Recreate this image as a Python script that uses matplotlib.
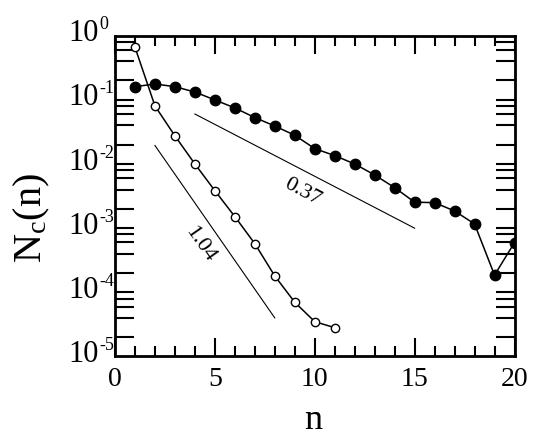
import matplotlib
matplotlib.use("Agg")
import matplotlib.pyplot as plt
from matplotlib import transforms
from matplotlib.ticker import LogLocator, MultipleLocator, NullFormatter

plt.rcParams['font.family'] = ['Liberation Serif', 'DejaVu Serif']
plt.rcParams['mathtext.fontset'] = 'custom'
plt.rcParams['mathtext.rm'] = 'Liberation Serif'
plt.rcParams['mathtext.it'] = 'Liberation Serif:italic'

# data
n_filled = list(range(1, 21))
nc_filled = [0.080, 0.088, 0.080, 0.066, 0.0497, 0.0373, 0.0264, 0.0195, 0.0140, 0.00867,
             0.00675, 0.0050, 0.00337, 0.00214, 0.00127, 0.00125, 0.000927, 0.000582,
             9.3e-5, 0.000298]

n_open = list(range(1, 12))
nc_open = [0.329, 0.0401, 0.0137, 0.0050, 0.00192, 0.000757, 0.000287, 9.0e-5,
           3.51e-5, 1.75e-5, 1.41e-5]

# guide lines (end points) and their slope labels
fit1_n = [4, 15]
fit1_y = [0.030, 5.0e-4]
fit1_label = "0.37"
fit2_n = [2, 8]
fit2_y = [0.0097, 2.0e-5]
fit2_label = "1.04"

decades = [0, -1, -2, -3, -4, -5]
xticks = [0, 5, 10, 15, 20]

fig = plt.figure(figsize=(5.53, 4.38), dpi=100)
ax = fig.add_axes([115 / 553, 1 - 355.5 / 438, 399.5 / 553, 319.2 / 438])
ax.set_yscale('log')

ax.plot(n_filled, nc_filled, '-o', color='black', lw=1.1, ms=7.5,
        mfc='black', mec='black', zorder=3)
ax.plot(n_open, nc_open, '-o', color='black', lw=1.1, ms=6,
        mfc='white', mec='black', mew=1.0, zorder=3)

ax.plot(fit1_n, fit1_y, '-', color='black', lw=0.8)
ax.plot(fit2_n, fit2_y, '-', color='black', lw=0.8)
ax.text(9.37, 1.83e-3, fit1_label, rotation=-28, ha='center', va='center',
        fontsize=16, rotation_mode='anchor')
ax.text(4.26, 2.84e-4, fit2_label, rotation=-55, ha='center', va='center',
        fontsize=16, rotation_mode='anchor')

ax.set_xlim(0, 20)
ax.set_ylim(5.2e-6, 0.487)

ax.set_xticks(xticks)
ax.xaxis.set_minor_locator(MultipleLocator(1))
ax.yaxis.set_major_locator(LogLocator(base=10, numticks=10))
ax.yaxis.set_minor_locator(LogLocator(base=10, subs=[2, 3, 4, 5], numticks=10))
ax.yaxis.set_major_formatter(NullFormatter())
ax.yaxis.set_minor_formatter(NullFormatter())

ax.tick_params(axis='both', which='both', direction='in', top=True, right=True,
               width=1.5)
ax.tick_params(axis='x', which='major', length=13, labelsize=20, pad=8)
ax.tick_params(axis='x', which='minor', length=7.5)
ax.tick_params(axis='y', which='both', length=13.5)
for sp in ax.spines.values():
    sp.set_linewidth(2)

# decade labels: "10" plus a small exponent, sitting below their ticks
base = transforms.blended_transform_factory(ax.transAxes, ax.transData)
t_ten = transforms.offset_copy(base, fig=fig, x=-16, y=-25, units='dots')
t_exp = transforms.offset_copy(base, fig=fig, x=-16, y=-13, units='dots')
for d in decades:
    ax.text(0, 10.0 ** d, '10', transform=t_ten, ha='right', va='baseline',
            fontsize=22, clip_on=False)
    ax.text(0, 10.0 ** d, str(d), transform=t_exp, ha='left', va='baseline',
            fontsize=13, clip_on=False)

fig.text(313 / 553, 1 - 429 / 438, 'n', ha='center', va='baseline', fontsize=26)
fig.text(32 / 553, 1 - 218 / 438, r'$\mathrm{N_c(n)}$', rotation=90,
         ha='center', va='center', fontsize=29)

fig.savefig('out.png', dpi=100)
